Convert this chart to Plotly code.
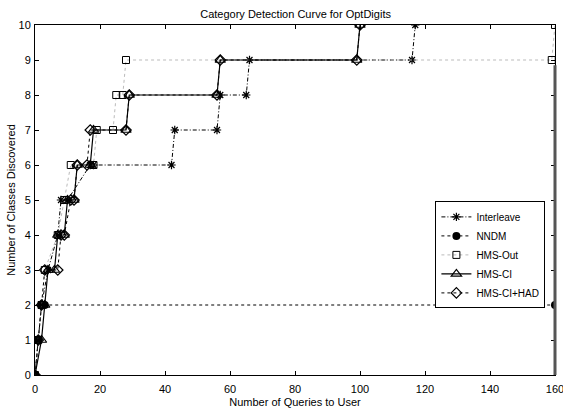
import plotly.graph_objects as go

# Interleave
il_x = [0, 1, 2, 4, 7, 8, 10, 17, 18, 42, 43, 56, 57, 65, 66, 116, 117]
il_y = [0, 1, 2, 3, 4, 5, 5, 6, 6, 6, 7, 7, 8, 8, 9, 9, 10]
# NNDM
nn_x = [0, 1, 2, 3, 160]
nn_y = [0, 1, 2, 2, 2]
# HMS-Out
ho_x = [0, 1, 2, 3, 7, 9, 11, 18, 19, 24, 25, 27, 28, 159, 160]
ho_y = [0, 1, 2, 3, 4, 5, 6, 6, 7, 7, 8, 8, 9, 9, 10]
# HMS-CI
hc_x = [0, 2, 3, 4, 6, 7, 9, 10, 12, 13, 17, 18, 28, 29, 56, 57, 99, 100]
hc_y = [0, 1, 2, 3, 3, 4, 4, 5, 5, 6, 6, 7, 7, 8, 8, 9, 9, 10]
# HMS-CI+HAD
hd_x = [0, 1, 2, 3, 7, 8, 9, 11, 12, 13, 16, 17, 28, 29, 56, 57, 99, 100]
hd_y = [0, 1, 2, 3, 3, 4, 4, 5, 5, 6, 6, 7, 7, 8, 8, 9, 9, 10]

x_ticks = [0, 20, 40, 60, 80, 100, 120, 140, 160]
y_ticks = [0, 1, 2, 3, 4, 5, 6, 7, 8, 9, 10]

fig = go.Figure()
fig.add_trace(go.Scatter(x=il_x, y=il_y, name="Interleave", mode="lines+markers",
                         line=dict(color="black", width=1, dash="4px,2px,1px,2px"),
                         marker=dict(symbol="asterisk-open", size=7, color="black",
                                     line=dict(color="black", width=1.2))))
fig.add_trace(go.Scatter(x=nn_x, y=nn_y, name="NNDM", mode="lines+markers",
                         line=dict(color="black", width=1, dash="3px,3px"),
                         marker=dict(symbol="circle", size=8, color="black")))
fig.add_trace(go.Scatter(x=ho_x, y=ho_y, name="HMS-Out", mode="lines+markers",
                         line=dict(color="#bbbbbb", width=1, dash="dot"),
                         marker=dict(symbol="square-open", size=7, color="black",
                                     line=dict(color="black", width=1))))
fig.add_trace(go.Scatter(x=hc_x, y=hc_y, name="HMS-CI", mode="lines+markers",
                         line=dict(color="black", width=1.2),
                         marker=dict(symbol="triangle-up-open", size=9, color="black",
                                     line=dict(color="black", width=1.2))))
fig.add_trace(go.Scatter(x=hd_x, y=hd_y, name="HMS-CI+HAD", mode="lines+markers",
                         line=dict(color="black", width=1, dash="dot"),
                         marker=dict(symbol="diamond-open", size=8, color="black",
                                     line=dict(color="black", width=1.2))))

fnt = dict(family="Liberation Sans, Arial, sans-serif", size=11, color="black")
fig.update_layout(
    width=563, height=417,
    margin=dict(l=35, r=8, t=25, b=42, autoexpand=False),
    paper_bgcolor="white", plot_bgcolor="white",
    font=fnt,
    title=dict(text="Category Detection Curve for OptDigits", x=0.525, xanchor="center",
               y=0.966, yanchor="middle", font=dict(size=11, color="black")),
    showlegend=True,
    legend=dict(x=0.77, y=0.496, xanchor="left", yanchor="top",
                bordercolor="black", borderwidth=1, bgcolor="white",
                font=dict(size=10), itemwidth=30, tracegroupgap=0),
    xaxis=dict(range=[0, 160], tickvals=x_ticks, ticks="inside", ticklen=4,
               showline=True, linecolor="black", linewidth=1, mirror="ticks",
               showgrid=False, zeroline=False, tickcolor="black", automargin=False,
               ticklabeloverflow="allow", ticklabelstandoff=4,
               title=dict(text="Number of Queries to User", standoff=4, font=dict(size=11))),
    yaxis=dict(range=[0, 10], tickvals=y_ticks, ticks="inside", ticklen=4,
               showline=True, linecolor="black", linewidth=1, mirror="ticks",
               showgrid=False, zeroline=False, tickcolor="black", automargin=False,
               ticklabeloverflow="allow", ticklabelstandoff=1,
               title=dict(text="Number of Classes Discovered", standoff=0, font=dict(size=11))),
    shapes=[dict(type="line", xref="paper", yref="paper", x0=1, x1=1, y0=0, y1=0.885,
                 line=dict(color="#555555", width=3), layer="above")],
)
fig.write_html("out.html", config={"displayModeBar": False},
               post_script="document.body.style.margin='0';document.body.style.padding='0';")
